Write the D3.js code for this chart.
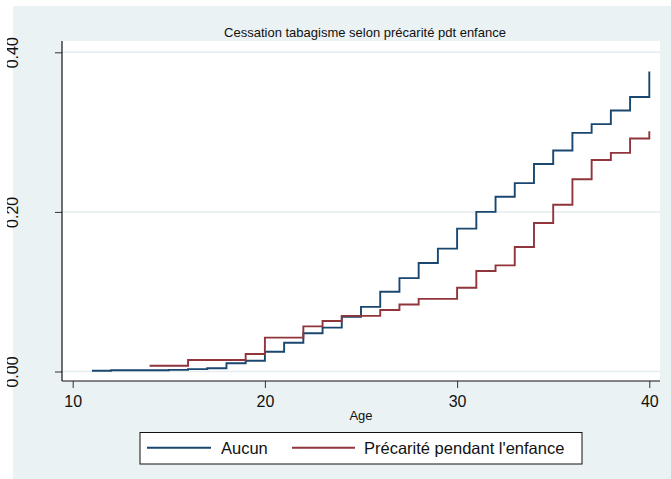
<!DOCTYPE html>
<html><head><meta charset="utf-8">
<script src="https://cdn.jsdelivr.net/npm/d3@7"></script>
<style>
html,body{margin:0;padding:0;background:#fff;}
svg{display:block;font-family:"Liberation Sans",Arial,Helvetica,sans-serif;}
</style></head>
<body><svg id="c" width="671" height="479"></svg>
<script>
const titleText = "Cessation tabagisme selon précarité pdt enfance";
const xLabel = "Age";
const xTicks = [10, 20, 30, 40];
const yTicks = [0, 0.2, 0.4];
const yTickLabels = ["0.00", "0.20", "0.40"];
const seriesNames = ["Aucun", "Précarité pendant l'enfance"];
const seriesColors = ["#1a476f", "#90353b"];
const aucunAges = [11,12,15,16,17,18,19,20,21,22,23,24,25,26,27,28,29,30,31,32,33,34,35,36,37,38,39,40];
const aucunVals = [0.001,0.0015,0.002,0.003,0.004,0.0103,0.0135,0.0248,0.036,0.048,0.055,0.0686,0.081,0.100,0.117,0.136,0.154,0.179,0.200,0.219,0.236,0.260,0.277,0.299,0.310,0.327,0.344,0.376];
const precAges = [14,16,19,20,22,23,24,26,27,28,30,31,32,33,34,35,36,37,38,39,40];
const precVals = [0.0073,0.0144,0.0219,0.0424,0.0566,0.0633,0.0697,0.077,0.084,0.091,0.105,0.126,0.133,0.156,0.186,0.209,0.241,0.265,0.274,0.292,0.301];

const svg = d3.select("#c");
const bg = "#eaf2f3";
svg.append("defs").append("clipPath").attr("id","ylab")
  .append("rect").attr("x",7).attr("y",0).attr("width",671).attr("height",479);
svg.append("rect").attr("x",13).attr("y",6).attr("width",658).attr("height",473).attr("fill",bg);

const P = {l:62, r:660, t:41, b:381};
svg.append("rect").attr("x",P.l).attr("y",P.t).attr("width",P.r-P.l).attr("height",P.b-P.t).attr("fill","#fff");

const x = d3.scaleLinear().domain([10,40]).range([72.7,649.3]);
const y = d3.scaleLinear().domain([0,0.4]).range([371.5,52.3]);

// grid
svg.append("g").selectAll("line").data(yTicks).join("line")
  .attr("x1",P.l).attr("x2",P.r).attr("y1",d=>y(d)).attr("y2",d=>y(d))
  .attr("stroke","#e4ecef").attr("stroke-width",1.5);

// title
svg.append("text").attr("x",365).attr("y",37).attr("text-anchor","middle")
  .attr("font-size",13).attr("fill","#111").text(titleText);

// series
const line = d3.line().x(d=>x(d[0])).y(d=>y(d[1])).curve(d3.curveStepAfter);
const series = [d3.zip(aucunAges, aucunVals), d3.zip(precAges, precVals)];
series.forEach((s,i)=>{
  svg.append("path").datum(s).attr("d",line).attr("fill","none")
    .attr("stroke",seriesColors[i]).attr("stroke-width",1.9);
});

// axes
const xAxis = d3.axisBottom(x).tickValues(xTicks).tickSize(7).tickFormat(d3.format("d"));
const gx = svg.append("g").attr("transform",`translate(0,${P.b})`).call(xAxis);
gx.select(".domain").remove();
gx.selectAll(".tick line").attr("stroke","#333");
gx.selectAll(".tick text").attr("font-size",16).attr("fill","#111").attr("y",null).attr("dy",null)
  .attr("transform","translate(0,26)");
svg.append("line").attr("x1",P.l).attr("x2",P.r).attr("y1",P.b).attr("y2",P.b).attr("stroke","#111").attr("stroke-width",1.2);

const yAxis = d3.axisLeft(y).tickValues(yTicks).tickSize(7).tickFormat((d,i)=>yTickLabels[i]);
const gy = svg.append("g").attr("transform",`translate(${P.l},0)`).call(yAxis);
gy.select(".domain").remove();
gy.selectAll(".tick line").attr("stroke","#333");
gy.selectAll(".tick text").attr("font-size",16).attr("fill","#111")
  .attr("x",null).attr("dy",null).attr("text-anchor","middle")
  .attr("transform",`translate(${17.5-P.l},0) rotate(-90)`);
// clip labels at the picture's left crop
const labs = gy.selectAll(".tick text").nodes();
const clipG = svg.append("g").attr("clip-path","url(#ylab)");
labs.forEach(n=>{
  const t = n.parentNode.getAttribute("transform");
  const g = clipG.append("g").attr("transform",`translate(${P.l},0) ${t}`);
  g.node().appendChild(n);
});
svg.append("line").attr("x1",P.l).attr("x2",P.l).attr("y1",P.t).attr("y2",P.b).attr("stroke","#111").attr("stroke-width",1.2);

svg.append("text").attr("x",361).attr("y",420).attr("text-anchor","middle")
  .attr("font-size",13).attr("fill","#111").text(xLabel);

// legend
const lg = svg.append("g");
lg.append("rect").attr("x",140).attr("y",432.5).attr("width",442).attr("height",31.5)
  .attr("fill","#fff").attr("stroke","#111").attr("stroke-width",1);
const legX = [[147,211,221],[292,355,364]];
seriesNames.forEach((n,i)=>{
  lg.append("line").attr("x1",legX[i][0]).attr("x2",legX[i][1]).attr("y1",447.7).attr("y2",447.7)
    .attr("stroke",seriesColors[i]).attr("stroke-width",1.9);
  lg.append("text").attr("x",legX[i][2]).attr("y",453.5).attr("font-size",16.5).attr("fill","#111").text(n);
});
</script></body></html>
